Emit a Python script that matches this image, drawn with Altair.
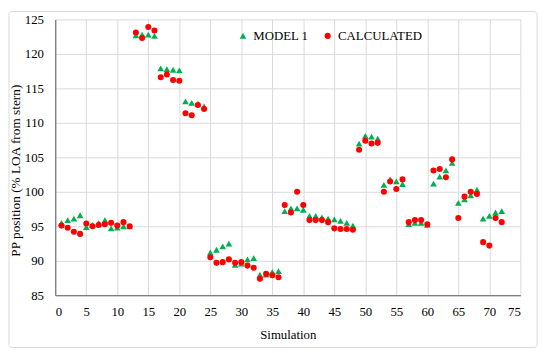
import altair as alt
import pandas as pd

simulation = list(range(1, 73))

model1 = [95.5, 95.9, 96.1, 96.6, 94.9, 95.2, 95.5, 95.9, 94.7, 94.8, 95.0, 95.0,
          122.7, 122.8, 122.8, 122.6,
          117.9, 117.8, 117.7, 117.6,
          113.1, 112.9, 112.8, 112.4,
          91.2, 91.6, 92.1, 92.5, 89.4, 89.6, 90.2, 90.4, 88.0, 88.0, 88.4, 88.5,
          97.2, 97.6, 97.6, 97.4, 96.5, 96.5, 96.3, 96.1, 96.0, 95.8, 95.5, 95.1,
          107.0, 108.1, 108.0, 107.7,
          101.0, 101.8, 101.5, 101.1,
          95.3, 95.5, 95.5, 95.2,
          101.2, 102.2, 103.1, 104.2,
          98.4, 98.9, 99.5, 100.3,
          96.1, 96.5, 97.0, 97.2]

calculated = [95.1, 94.8, 94.2, 93.9, 95.4, 95.0, 95.2, 95.3, 95.5, 95.1, 95.6, 95.0,
              123.1, 122.3, 123.9, 123.4,
              116.6, 117.0, 116.2, 116.1,
              111.4, 111.1, 112.6, 112.0,
              90.5, 89.7, 89.8, 90.2, 89.7, 89.8, 89.3, 89.0, 87.4, 88.1, 87.9, 87.6,
              98.1, 97.0, 100.0, 98.1, 95.9, 95.9, 95.9, 95.6, 94.7, 94.6, 94.6, 94.5,
              106.1, 107.4, 107.0, 107.1,
              100.0, 101.5, 100.4, 101.8,
              95.6, 95.9, 95.9, 95.3,
              103.1, 103.3, 102.1, 104.7,
              96.2, 99.3, 100.0, 99.7,
              92.7, 92.2, 96.2, 95.6]

series_names = ["MODEL 1", "CALCULATED"]
x_ticks = list(range(0, 76, 5))
y_ticks = list(range(85, 126, 5))

rows = []
for name, vals in zip(series_names, [model1, calculated]):
    for s, v in zip(simulation, vals):
        rows.append({"Simulation": s, "value": v, "series": name, "order": series_names.index(name)})
df = pd.DataFrame(rows)

FONT = "Liberation Serif"

frame = alt.Chart(pd.DataFrame({"a": [0]})).mark_rect(
    filled=False, stroke="#d9d9d9", strokeWidth=1, cornerRadius=3, clip=False
).encode(x=alt.value(-47), x2=alt.value(489), y=alt.value(-8), y2=alt.value(333))

points = alt.Chart(df).mark_point(filled=True, opacity=1).encode(
    x=alt.X("Simulation:Q",
            scale=alt.Scale(domain=[0, 75], nice=False, zero=False),
            axis=alt.Axis(values=x_ticks, title="Simulation", grid=True, ticks=False,
                          labelPadding=11, titlePadding=10)),
    y=alt.Y("value:Q",
            scale=alt.Scale(domain=[85, 125], nice=False, zero=False),
            axis=alt.Axis(values=y_ticks, title="PP position (% LOA from stern)", grid=True,
                          ticks=False, labelPadding=12, titleX=-33, titleY=153,
                          titleFontSize=13.5)),
    color=alt.Color("series:N",
                    scale=alt.Scale(domain=series_names, range=["#00b050", "#ff0000"]),
                    legend=alt.Legend(title=None, orient="none", direction="horizontal",
                                      legendX=184, legendY=10, labelFont=FONT,
                                      labelFontSize=13, labelColor="#000000",
                                      symbolSize=42, columnPadding=13, labelOffset=4)),
    shape=alt.Shape("series:N",
                    scale=alt.Scale(domain=series_names, range=["triangle-up", "circle"]),
                    legend=None),
    size=alt.Size("series:N",
                  scale=alt.Scale(domain=series_names, range=[46, 38]),
                  legend=None),
    order=alt.Order("order:Q"),
)

chart = alt.layer(frame, points).properties(
    width=472, height=280,
    autosize=alt.AutoSizeParams(type="none"),
    padding={"left": 48, "top": 9, "right": 22, "bottom": 54},
).configure_view(stroke=None).configure_axis(
    labelFont=FONT, titleFont=FONT, labelFontSize=13, titleFontSize=13,
    labelColor="#000000", titleColor="#000000", titleFontWeight="normal",
    gridColor="#d9d9d9", gridWidth=1, domainColor="#595959", domainWidth=1,
)

chart.save("out.html", embed_options={"renderer": "svg", "actions": False})
